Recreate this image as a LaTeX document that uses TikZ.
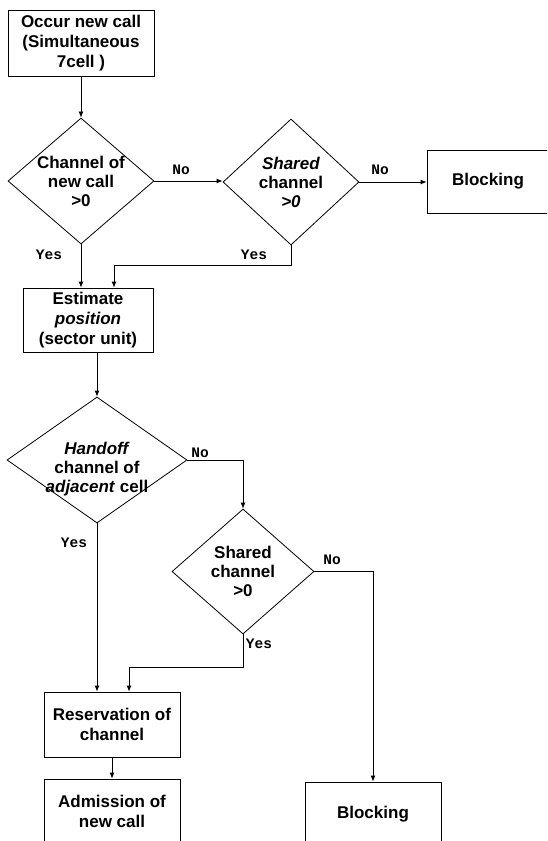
\documentclass[tikz,border=0pt]{standalone}
\usepackage{fontspec}
\setmainfont{Liberation Sans}
\newfontfamily\ynfont{Liberation Mono}
\usetikzlibrary{shapes.geometric,arrows.meta}

\tikzset{
    box/.style={draw, rectangle, align=center, inner sep=0pt, line width=0.8pt,
        font=\bfseries\fontsize{17}{20}\selectfont},
    decision/.style={draw, diamond, inner sep=0pt, line width=0.8pt},
    dtext/.style={align=center, inner sep=0pt, font=\bfseries\fontsize{17}{19}\selectfont},
    yn/.style={inner sep=0pt, font=\ynfont\bfseries\fontsize{14.5}{14.5}\selectfont},
    flow/.style={-{Latex[length=6pt,width=5pt]}, line width=0.8pt},
}

\begin{document}
\begin{tikzpicture}[x=1pt, y=-1pt]
    \useasboundingbox (0,0) rectangle (547,841);
    \clip (0,0) rectangle (547,841);

    % First row: new call check
    \node[box, minimum width=146pt, minimum height=66pt] (start) at (81,43)
        {Occur new call\\(Simultaneous\\7cell )};
    \node[decision, minimum width=146pt, minimum height=126pt] (chk1) at (81,181) {};
    \node[dtext] (chk1t) at (chk1) {Channel of\\new call\\>0};
    \node[decision, minimum width=136pt, minimum height=126pt] (shr1) at (291,182) {};
    \node[dtext] (shr1t) at (shr1) {\textit{Shared}\\channel\\\textit{>0}};
    \node[box, minimum width=122pt, minimum height=63pt] (blk1) at (488,181.5) {Blocking};

    % Position estimate and handoff check
    \node[box, minimum width=130pt, minimum height=64pt] (est) at (88,320)
        {Estimate\\\textit{position}\\(sector unit)};
    \node[decision, minimum width=180pt, minimum height=126pt] (hnd) at (97,460) {};
    \node[dtext] (hndt) at (97,469) {\textit{Handoff}\\channel of\\\textit{adjacent} cell};
    \node[decision, minimum width=142pt, minimum height=125pt] (shr2) at (243,571.5) {};
    \node[dtext] (shr2t) at (shr2) {Shared\\channel\\>0};

    % Results
    \node[box, minimum width=136pt, minimum height=65pt] (res) at (112,724.5)
        {Reservation of\\channel};
    \node[box, minimum width=136pt, minimum height=65pt] (adm) at (112,811.5)
        {Admission of\\new call};
    \node[box, minimum width=136pt, minimum height=65pt] (blk2) at (373,814.5) {Blocking};

    % Connectors
    \coordinate (j1) at (114,265);
    \coordinate (j2) at (129,667);
    \draw[flow] (start) -- (chk1);
    \draw[flow] (chk1.east) -- (chk1.east -| shr1.west);
    \draw[flow] (shr1.east) -- (shr1.east -| blk1.west);
    \draw[flow] (chk1.south) -- (chk1.south |- est.north);
    \draw[flow] (shr1.south) |- (j1) -- (j1 |- est.north);
    \draw[flow] (est.south -| hnd.north) -- (hnd.north);
    \draw[flow] (hnd.east) -| (shr2.north);
    \draw[flow] (hnd.south) -- (hnd.south |- res.north);
    \draw[flow] (shr2.south) |- (j2) -- (j2 |- res.north);
    \draw[flow] (shr2.east) -| (blk2.north);
    \draw[flow] (res) -- (adm);

    % Yes / No labels
    \node[yn] (no1) at (181,170) {No};
    \node[yn] (no2) at (380,170) {No};
    \node[yn] (no3) at (200,453) {No};
    \node[yn] (no4) at (332,560) {No};
    \node[yn] (yes1) at (49,255) {Yes};
    \node[yn] (yes2) at (254,255) {Yes};
    \node[yn] (yes3) at (74,543) {Yes};
    \node[yn] (yes4) at (259,644) {Yes};
\end{tikzpicture}
\end{document}
